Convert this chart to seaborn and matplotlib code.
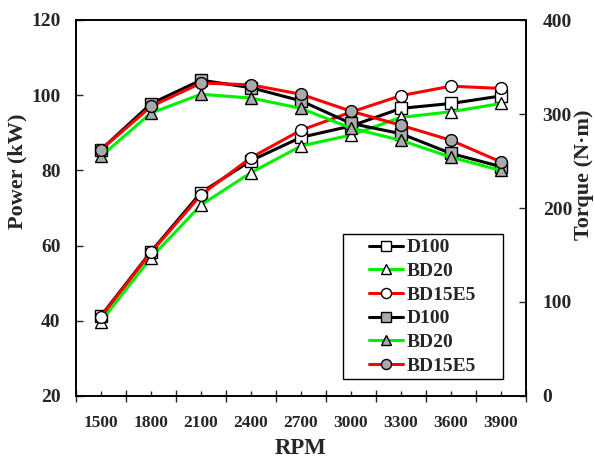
import numpy as np
import seaborn as sns
import matplotlib.pyplot as plt
from matplotlib.patches import Rectangle

# engine speed (RPM)
rpm = [1500, 1800, 2100, 2400, 2700, 3000, 3300, 3600, 3900]

# power (kW), open markers
power_d100 = [41.3, 58.4, 74.1, 82.6, 88.8, 91.8, 96.5, 97.8, 99.8]
power_bd20 = [39.8, 56.8, 70.8, 79.4, 86.5, 89.4, 94.1, 95.6, 97.8]
power_bd15e5 = [41.1, 58.2, 73.5, 83.4, 90.7, 95.5, 99.9, 102.4, 101.8]

# torque (N·m), grey filled markers
torque_d100 = [262, 311, 336, 328, 314, 290, 279, 258, 244]
torque_bd20 = [255, 301, 321, 317, 306, 285, 272, 254, 240]
torque_bd15e5 = [262, 308, 333, 331, 321, 303, 288, 272, 249]

labels = ["D100", "BD20", "BD15E5"]
colors = ["black", "#00f000", "#ff0000"]
markers = ["s", "^", "o"]

sns.set_style("ticks")
plt.rcParams['font.family'] = ['Liberation Serif', 'DejaVu Serif']
plt.rcParams['font.weight'] = 'bold'

fig = plt.figure(figsize=(5.94, 4.61), dpi=100)
ax = fig.add_axes([76 / 594, 1 - 396 / 461, 450 / 594, 376 / 461])
ax2 = ax.twinx()

# power curves on the left axis
for p, lab, c, m in zip([power_d100, power_bd20, power_bd15e5], labels, colors, markers):
    sns.lineplot(x=rpm, y=p, ax=ax, color=c, lw=2.2, marker=m, ms=8.5,
                 mfc='white', mec='black', mew=1.0, label=lab, legend=False)

# torque curves on the right axis
for t, lab, c, m in zip([torque_d100, torque_bd20, torque_bd15e5], labels, colors, markers):
    sns.lineplot(x=rpm, y=t, ax=ax2, color=c, lw=2.2, marker=m, ms=8.5,
                 mfc='#aaaaaa', mec='black', mew=1.0, label=lab, legend=False)

ax.set_xlim(1350, 4050)
ax.set_ylim(20, 120)
ax2.set_ylim(0, 400)
ax.set_xticks(rpm)
ax.set_xticklabels([str(r) for r in rpm])
ax.set_xticks(np.arange(1350, 4051, 300), minor=True)
ax.set_yticks(np.arange(20, 121, 20))
ax2.set_yticks(np.arange(0, 401, 100))

ax.tick_params(axis='x', which='major', direction='in', length=3.5, width=1, labelsize=12.5, pad=14)
ax.tick_params(axis='x', which='minor', direction='inout', length=8, width=1)
ax.tick_params(axis='y', direction='in', length=5, width=1, labelsize=14, pad=11)
ax2.tick_params(axis='y', direction='in', length=5, width=1, labelsize=14, pad=12)

for a in (ax, ax2):
    for s in a.spines.values():
        s.set_linewidth(1.2)
        s.set_color('black')

ax.set_xlabel("RPM", fontsize=16.5, fontweight='bold')
ax.set_ylabel("Power (kW)", fontsize=16, fontweight='bold')
ax2.set_ylabel("Torque (N·m)", fontsize=16, fontweight='bold', rotation=90)
ax.xaxis.set_label_coords(0.5, -0.112)
ax.yaxis.set_label_coords(-0.107, 0.598)
ax2.yaxis.set_label_coords(1.106, 0.588)

# legend box drawn separately so the inner padding matches
ax2.add_patch(Rectangle((0.593, 0.045), 0.356, 0.386, transform=ax2.transAxes,
                        facecolor='white', edgecolor='black', lw=1.0, zorder=4))
handles = ax.get_lines() + ax2.get_lines()
names = labels + labels
leg = ax2.legend(handles, names, loc='upper left', bbox_to_anchor=(0.651, 0.418),
                 fontsize=14, frameon=False, handlelength=1.75, handletextpad=0.2,
                 labelspacing=0.31, borderpad=0, borderaxespad=0, markerscale=0.85)
leg.set_zorder(5)
for txt in leg.get_texts():
    txt.set_fontweight('bold')

plt.savefig("out.png", dpi=100)
